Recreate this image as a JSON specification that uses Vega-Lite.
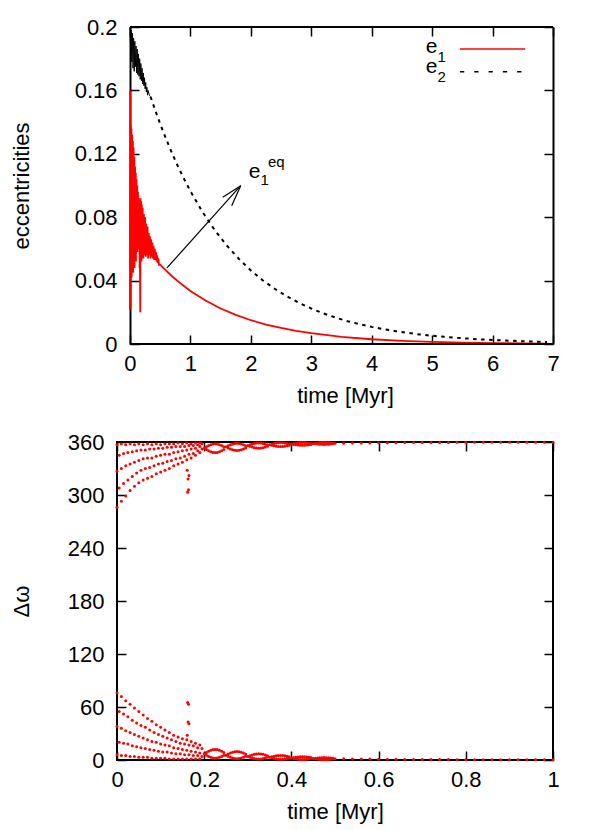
{
"$schema": "https://vega.github.io/schema/vega-lite/v6.json",
"background": "white",
"padding": {"left": 9, "top": 16, "right": 5, "bottom": 5},
"config": {
  "view": {"stroke": "black", "strokeWidth": 2},
  "font": "Liberation Sans",
  "axis": {"labelFont": "Liberation Sans", "labelFontSize": 22, "labelColor": "black", "titleFont": "Liberation Sans", "titleFontSize": 22, "titleFontWeight": "normal", "titleColor": "black", "tickColor": "black", "tickWidth": 1.5, "tickSize": -9, "domain": false, "grid": false, "labelFlush": false, "labelOverlap": false},
  "axisX": {"labelPadding": 18, "titlePadding": 11},
  "axisY": {"labelPadding": 22},
  "text": {"font": "Liberation Sans", "color": "black"}
},
"columns": 1,
"align": "none",
"spacing": 24,
"concat": [
{
  "width": 436, "height": 317,
  "view": {"stroke": null},
  "layer": [
    {
      "data": {"values": [
        {"t":0,"e":0.022},{"t":0.003,"e":0.16},{"t":0.006,"e":0.04},{"t":0.009,"e":0.023},{"t":0.012,"e":0.138},{"t":0.015,"e":0.045},{"t":0.018,"e":0.13},{"t":0.021,"e":0.06},{"t":0.024,"e":0.136},{"t":0.027,"e":0.042},{"t":0.03,"e":0.125},{"t":0.033,"e":0.07},{"t":0.036,"e":0.132},{"t":0.039,"e":0.05},{"t":0.042,"e":0.12},{"t":0.045,"e":0.062},{"t":0.048,"e":0.128},{"t":0.051,"e":0.045},{"t":0.054,"e":0.118},{"t":0.057,"e":0.075},{"t":0.06,"e":0.124},{"t":0.063,"e":0.055},{"t":0.066,"e":0.112},{"t":0.069,"e":0.068},{"t":0.072,"e":0.118},{"t":0.075,"e":0.048},{"t":0.078,"e":0.11},{"t":0.081,"e":0.072},{"t":0.084,"e":0.112},{"t":0.087,"e":0.058},{"t":0.09,"e":0.104},{"t":0.093,"e":0.07},{"t":0.096,"e":0.108},{"t":0.099,"e":0.052},{"t":0.102,"e":0.1},{"t":0.105,"e":0.068},{"t":0.108,"e":0.104},{"t":0.111,"e":0.06},{"t":0.114,"e":0.096},{"t":0.117,"e":0.072},{"t":0.12,"e":0.1},{"t":0.123,"e":0.058},{"t":0.126,"e":0.094},{"t":0.129,"e":0.066},{"t":0.132,"e":0.096},{"t":0.135,"e":0.062},{"t":0.138,"e":0.09},{"t":0.141,"e":0.07},{"t":0.144,"e":0.092},{"t":0.147,"e":0.06},{"t":0.15,"e":0.088},{"t":0.153,"e":0.066},{"t":0.156,"e":0.086},{"t":0.159,"e":0.048},{"t":0.162,"e":0.084},{"t":0.165,"e":0.05},{"t":0.17,"e":0.02},{"t":0.175,"e":0.092},{"t":0.18,"e":0.055},{"t":0.185,"e":0.09},{"t":0.19,"e":0.052},{"t":0.195,"e":0.088},{"t":0.2,"e":0.056},{"t":0.21,"e":0.086},{"t":0.22,"e":0.054},{"t":0.23,"e":0.082},{"t":0.24,"e":0.056},{"t":0.25,"e":0.08},{"t":0.26,"e":0.055},{"t":0.27,"e":0.076},{"t":0.28,"e":0.056},{"t":0.29,"e":0.074},{"t":0.3,"e":0.054},{"t":0.31,"e":0.07},{"t":0.32,"e":0.056},{"t":0.33,"e":0.068},{"t":0.34,"e":0.054},{"t":0.35,"e":0.066},{"t":0.36,"e":0.055},{"t":0.37,"e":0.064},{"t":0.38,"e":0.054},{"t":0.39,"e":0.062},{"t":0.4,"e":0.053},{"t":0.41,"e":0.06},{"t":0.42,"e":0.053},{"t":0.43,"e":0.058},{"t":0.44,"e":0.052},{"t":0.45,"e":0.056},{"t":0.46,"e":0.051},{"t":0.47,"e":0.054},{"t":0.48,"e":0.05},{"t":0.5,"e":0.05},{"t":0.55,"e":0.048},
        {"t":0.7,"e":0.0426},{"t":0.85,"e":0.0378},{"t":1.0,"e":0.0335},{"t":1.25,"e":0.0274},{"t":1.5,"e":0.0224},{"t":1.75,"e":0.0184},{"t":2.0,"e":0.015},{"t":2.25,"e":0.0123},{"t":2.5,"e":0.0101},{"t":2.75,"e":0.0083},{"t":3.0,"e":0.0068},{"t":3.5,"e":0.0045},{"t":4.0,"e":0.003},{"t":4.5,"e":0.002},{"t":5.0,"e":0.0014},{"t":5.5,"e":0.0009},{"t":6.0,"e":0.0006},{"t":6.5,"e":0.0004},{"t":6.9,"e":0.0003}
      ]},
      "mark": {"type": "line", "color": "#ff0000", "strokeWidth": 1.8},
      "encoding": {
        "x": {"field": "t", "type": "quantitative", "scale": {"domain": [-0.215, 7], "nice": false, "zero": false}, "axis": {"orient": "bottom", "values": [0,1,2,3,4,5,6,7], "format": "~g", "title": "time [Myr]", "titleX": 228}},
        "y": {"field": "e", "type": "quantitative", "scale": {"domain": [0, 0.2], "nice": false, "zero": false}, "axis": {"orient": "left", "offset": -13, "domain": true, "domainColor": "black", "domainWidth": 2, "values": [0,0.04,0.08,0.12,0.16,0.2], "format": "~g", "title": "eccentricities", "titleX": -102, "titleBaseline": "alphabetic", "titleAngle": 270}}
      }
    },
    {
      "data": {"values": [
        {"t":0,"e":0.2},{"t":0.01,"e":0.185},{"t":0.02,"e":0.198},{"t":0.03,"e":0.178},{"t":0.04,"e":0.196},{"t":0.05,"e":0.174},{"t":0.06,"e":0.193},{"t":0.07,"e":0.172},{"t":0.08,"e":0.191},{"t":0.09,"e":0.175},{"t":0.1,"e":0.188},{"t":0.11,"e":0.171},{"t":0.12,"e":0.186},{"t":0.13,"e":0.17},{"t":0.14,"e":0.183},{"t":0.15,"e":0.169},{"t":0.16,"e":0.18},{"t":0.17,"e":0.167},{"t":0.18,"e":0.177},{"t":0.19,"e":0.166},{"t":0.2,"e":0.174},{"t":0.21,"e":0.164},{"t":0.22,"e":0.171},{"t":0.23,"e":0.163},{"t":0.24,"e":0.168},{"t":0.25,"e":0.161},{"t":0.26,"e":0.165},{"t":0.27,"e":0.159},{"t":0.28,"e":0.162},{"t":0.29,"e":0.157},{"t":0.3,"e":0.16},{"t":0.32,"e":0.157},{"t":0.34,"e":0.156}
      ]},
      "mark": {"type": "line", "color": "black", "strokeWidth": 1},
      "encoding": {
        "x": {"field": "t", "type": "quantitative", "axis": null},
        "y": {"field": "e", "type": "quantitative", "axis": null}
      }
    },
    {
      "data": {"values": [
        {"t":0.34,"e":0.156},{"t":0.4,"e":0.1494},{"t":0.5,"e":0.1388},{"t":0.6,"e":0.1291},{"t":0.7,"e":0.12},{"t":0.8,"e":0.1115},{"t":0.9,"e":0.1037},{"t":1.0,"e":0.0964},{"t":1.2,"e":0.0833},{"t":1.4,"e":0.072},{"t":1.6,"e":0.0622},{"t":1.8,"e":0.0538},{"t":2.0,"e":0.0464},{"t":2.2,"e":0.0401},{"t":2.4,"e":0.0347},{"t":2.6,"e":0.03},{"t":2.8,"e":0.0259},{"t":3.0,"e":0.0224},{"t":3.2,"e":0.0193},{"t":3.4,"e":0.0167},{"t":3.6,"e":0.0144},{"t":3.8,"e":0.0125},{"t":4.0,"e":0.0108},{"t":4.2,"e":0.0093},{"t":4.4,"e":0.0081},{"t":4.6,"e":0.007},{"t":4.8,"e":0.006},{"t":5.0,"e":0.0052},{"t":5.2,"e":0.0045},{"t":5.4,"e":0.0039},{"t":5.6,"e":0.0034},{"t":5.8,"e":0.0029},{"t":6.0,"e":0.0025},{"t":6.2,"e":0.0022},{"t":6.4,"e":0.0019},{"t":6.6,"e":0.0016},{"t":6.8,"e":0.0014},{"t":6.9,"e":0.0013}
      ]},
      "mark": {"type": "line", "color": "black", "strokeWidth": 2, "strokeDash": [3.5, 4.5]},
      "encoding": {
        "x": {"field": "t", "type": "quantitative", "axis": {"orient": "top", "labels": false, "title": null, "values": [0,1,2,3,4,5,6,7]}},
        "y": {"field": "e", "type": "quantitative", "axis": {"orient": "right", "labels": false, "title": null, "domain": true, "domainColor": "black", "domainWidth": 2, "values": [0,0.04,0.08,0.12,0.16,0.2]}}
      }
    },
    {
      "data": {"values": [{"x1":0,"x2":7,"y":0},{"x1":0,"x2":7,"y":0.2}]},
      "mark": {"type": "rule", "color": "black", "strokeWidth": 2},
      "encoding": {
        "x": {"field": "x1", "type": "quantitative", "axis": null},
        "x2": {"field": "x2"},
        "y": {"field": "y", "type": "quantitative", "axis": null}
      }
    },
    {
      "data": {"values": [
        {"x1":0.612,"y1":0.048,"x2":1.832,"y2":0.0999},
        {"x1":1.832,"y1":0.0999,"x2":1.534,"y2":0.0926},
        {"x1":1.832,"y1":0.0999,"x2":1.683,"y2":0.0873}
      ]},
      "mark": {"type": "rule", "color": "black", "strokeWidth": 1.2},
      "encoding": {
        "x": {"field": "x1", "type": "quantitative", "axis": null},
        "y": {"field": "y1", "type": "quantitative", "axis": null},
        "x2": {"field": "x2"},
        "y2": {"field": "y2"}
      }
    },
    {
      "data": {"values": [{"x1":5.46,"x2":6.54,"y":0.1861}]},
      "mark": {"type": "rule", "color": "#ff0000", "strokeWidth": 1.6},
      "encoding": {
        "x": {"field": "x1", "type": "quantitative", "axis": null},
        "x2": {"field": "x2"},
        "y": {"field": "y", "type": "quantitative", "axis": null}
      }
    },
    {
      "data": {"values": [{"x1":5.46,"x2":6.54,"y":0.1718}]},
      "mark": {"type": "rule", "color": "black", "strokeWidth": 1.6, "strokeDash": [4.3, 10]},
      "encoding": {
        "x": {"field": "x1", "type": "quantitative", "axis": null},
        "x2": {"field": "x2"},
        "y": {"field": "y", "type": "quantitative", "axis": null}
      }
    },
    {
      "data": {"values": [{"x":5.088,"y":0.1833,"s":"e"},{"x":5.088,"y":0.1707,"s":"e"},{"x":2.16,"y":0.1047,"s":"e"}]},
      "mark": {"type": "text", "align": "right", "baseline": "alphabetic", "fontSize": 21, "font": "Liberation Sans", "color": "black"},
      "encoding": {
        "x": {"field": "x", "type": "quantitative", "axis": null},
        "y": {"field": "y", "type": "quantitative", "axis": null},
        "text": {"field": "s"}
      }
    },
    {
      "data": {"values": [{"x":5.088,"y":0.1779,"s":"1"},{"x":5.088,"y":0.165,"s":"2"},{"x":2.16,"y":0.1003,"s":"1"},{"x":2.284,"y":0.1117,"s":"eq"}]},
      "mark": {"type": "text", "align": "left", "baseline": "alphabetic", "fontSize": 15, "font": "Liberation Sans", "color": "black"},
      "encoding": {
        "x": {"field": "x", "type": "quantitative", "axis": null},
        "y": {"field": "y", "type": "quantitative", "axis": null},
        "text": {"field": "s"}
      }
    }
  ]
},
{
  "width": 436, "height": 318,
  "layer": [
    {
      "data": {"values": [
        {"t":0,"d":76},{"t":0.01,"d":72},{"t":0.02,"d":67},{"t":0.03,"d":63},{"t":0.04,"d":59},{"t":0.05,"d":55},{"t":0.06,"d":51},{"t":0.07,"d":47},{"t":0.08,"d":44},{"t":0.09,"d":40},{"t":0.1,"d":37},{"t":0.11,"d":34},{"t":0.12,"d":31},{"t":0.13,"d":28},{"t":0.14,"d":26},{"t":0.15,"d":24},{"t":0.16,"d":23},{"t":0.17,"d":21},{"t":0.18,"d":19},{"t":0.19,"d":17},
        {"t":0.005,"d":55},{"t":0.015,"d":52},{"t":0.025,"d":49},{"t":0.035,"d":45},{"t":0.045,"d":42},{"t":0.055,"d":39},{"t":0.065,"d":37},{"t":0.075,"d":34},{"t":0.085,"d":31},{"t":0.095,"d":29},{"t":0.105,"d":27},{"t":0.115,"d":25},{"t":0.125,"d":23},{"t":0.135,"d":21},{"t":0.145,"d":19},{"t":0.155,"d":18},{"t":0.165,"d":17},{"t":0.175,"d":16},{"t":0.185,"d":14},{"t":0.195,"d":13},
        {"t":0,"d":38},{"t":0.01,"d":36},{"t":0.02,"d":33},{"t":0.03,"d":31},{"t":0.04,"d":29},{"t":0.05,"d":27},{"t":0.06,"d":25},{"t":0.07,"d":23},{"t":0.08,"d":21},{"t":0.09,"d":20},{"t":0.1,"d":18},{"t":0.11,"d":17},{"t":0.12,"d":16},{"t":0.13,"d":14},{"t":0.14,"d":13},{"t":0.15,"d":12},{"t":0.16,"d":11},{"t":0.17,"d":10},{"t":0.18,"d":9},{"t":0.19,"d":8},
        {"t":0.005,"d":20},{"t":0.015,"d":19},{"t":0.025,"d":18},{"t":0.035,"d":16},{"t":0.045,"d":15},{"t":0.055,"d":14},{"t":0.065,"d":13},{"t":0.075,"d":12},{"t":0.085,"d":11},{"t":0.095,"d":10},{"t":0.105,"d":9},{"t":0.115,"d":9},{"t":0.125,"d":8},{"t":0.135,"d":7},{"t":0.145,"d":7},{"t":0.155,"d":6},{"t":0.165,"d":6},{"t":0.175,"d":5},{"t":0.185,"d":5},{"t":0.195,"d":4},
        {"t":0,"d":6},{"t":0.01,"d":5},{"t":0.02,"d":5},{"t":0.03,"d":4},{"t":0.04,"d":4},{"t":0.05,"d":3},{"t":0.06,"d":3},{"t":0.07,"d":3},{"t":0.08,"d":2},{"t":0.09,"d":2},{"t":0.1,"d":2},{"t":0.11,"d":2},{"t":0.12,"d":1},{"t":0.13,"d":1},{"t":0.14,"d":1},{"t":0.15,"d":1},{"t":0.16,"d":1},{"t":0.17,"d":1},{"t":0.18,"d":1},{"t":0.19,"d":1},
        {"t":0.162,"d":65},{"t":0.164,"d":63},{"t":0.163,"d":43},{"t":0.165,"d":41},{"t":0.161,"d":28},
        {"t":0.2,"d":7},{"t":0.205,"d":8.6},{"t":0.21,"d":10},{"t":0.215,"d":11},{"t":0.22,"d":11.8},{"t":0.225,"d":12},{"t":0.23,"d":11.8},{"t":0.235,"d":11},{"t":0.24,"d":10},{"t":0.245,"d":8.6},
        {"t":0.205,"d":5.4},{"t":0.21,"d":4},{"t":0.215,"d":3},{"t":0.22,"d":2.2},{"t":0.225,"d":2},{"t":0.23,"d":2.2},{"t":0.235,"d":3},{"t":0.24,"d":4},{"t":0.245,"d":5.4},
        {"t":0.25,"d":5.5},{"t":0.255,"d":6.7},{"t":0.26,"d":7.9},{"t":0.265,"d":8.7},{"t":0.27,"d":9.3},{"t":0.275,"d":9.5},{"t":0.28,"d":9.3},{"t":0.285,"d":8.7},{"t":0.29,"d":7.9},{"t":0.295,"d":6.7},
        {"t":0.255,"d":4.3},{"t":0.26,"d":3.1},{"t":0.265,"d":2.3},{"t":0.27,"d":1.7},{"t":0.275,"d":1.5},{"t":0.28,"d":1.7},{"t":0.285,"d":2.3},{"t":0.29,"d":3.1},{"t":0.295,"d":4.3},
        {"t":0.3,"d":4},{"t":0.305,"d":4.9},{"t":0.31,"d":5.8},{"t":0.315,"d":6.4},{"t":0.32,"d":6.9},{"t":0.325,"d":7},{"t":0.33,"d":6.9},{"t":0.335,"d":6.4},{"t":0.34,"d":5.8},{"t":0.345,"d":4.9},
        {"t":0.305,"d":3.1},{"t":0.31,"d":2.2},{"t":0.315,"d":1.6},{"t":0.32,"d":1.1},{"t":0.325,"d":1},{"t":0.33,"d":1.1},{"t":0.335,"d":1.6},{"t":0.34,"d":2.2},{"t":0.345,"d":3.1},
        {"t":0.35,"d":3},{"t":0.355,"d":3.7},{"t":0.36,"d":4.3},{"t":0.365,"d":4.8},{"t":0.37,"d":5.1},{"t":0.375,"d":5.2},{"t":0.38,"d":5.1},{"t":0.385,"d":4.8},{"t":0.39,"d":4.3},{"t":0.395,"d":3.7},
        {"t":0.355,"d":2.3},{"t":0.36,"d":1.7},{"t":0.365,"d":1.2},{"t":0.37,"d":0.9},{"t":0.375,"d":0.8},{"t":0.38,"d":0.9},{"t":0.385,"d":1.2},{"t":0.39,"d":1.7},{"t":0.395,"d":2.3},
        {"t":0.4,"d":2.2},{"t":0.405,"d":2.7},{"t":0.41,"d":3.1},{"t":0.415,"d":3.5},{"t":0.42,"d":3.7},{"t":0.425,"d":3.8},{"t":0.43,"d":3.7},{"t":0.435,"d":3.5},{"t":0.44,"d":3.1},{"t":0.445,"d":2.7},
        {"t":0.405,"d":1.7},{"t":0.41,"d":1.3},{"t":0.415,"d":0.9},{"t":0.42,"d":0.7},{"t":0.425,"d":0.6},{"t":0.43,"d":0.7},{"t":0.435,"d":0.9},{"t":0.44,"d":1.3},{"t":0.445,"d":1.7},
        {"t":0.45,"d":1.6},{"t":0.455,"d":1.9},{"t":0.46,"d":2.2},{"t":0.465,"d":2.5},{"t":0.47,"d":2.6},{"t":0.475,"d":2.7},{"t":0.48,"d":2.6},{"t":0.485,"d":2.5},{"t":0.49,"d":2.2},{"t":0.495,"d":1.9},
        {"t":0.455,"d":1.3},{"t":0.46,"d":1},{"t":0.465,"d":0.7},{"t":0.47,"d":0.6},{"t":0.475,"d":0.5},{"t":0.48,"d":0.6},{"t":0.485,"d":0.7},{"t":0.49,"d":1},{"t":0.495,"d":1.3},
        {"t":0.5,"d":1.4},{"t":0.52,"d":1.3},{"t":0.54,"d":1.2},{"t":0.56,"d":1.1},{"t":0.58,"d":1.0},{"t":0.6,"d":0.9},{"t":0.62,"d":0.85},{"t":0.64,"d":0.8},{"t":0.66,"d":0.7},{"t":0.68,"d":0.65},{"t":0.7,"d":0.6},{"t":0.72,"d":0.55},{"t":0.74,"d":0.5},{"t":0.76,"d":0.45},{"t":0.78,"d":0.4},{"t":0.8,"d":0.4},{"t":0.82,"d":0.35},{"t":0.84,"d":0.3},{"t":0.86,"d":0.3},{"t":0.88,"d":0.25},{"t":0.9,"d":0.25},{"t":0.92,"d":0.2},{"t":0.94,"d":0.2},{"t":0.96,"d":0.2},{"t":0.98,"d":0.15},{"t":1.0,"d":0.15}
      ]},
      "mark": {"type": "point", "filled": true, "color": "#ff0000", "size": 9, "opacity": 1},
      "encoding": {
        "x": {"field": "t", "type": "quantitative", "scale": {"domain": [0, 1], "nice": false, "zero": false}, "axis": {"orient": "bottom", "values": [0,0.2,0.4,0.6,0.8,1], "format": "~g", "title": "time [Myr]"}},
        "y": {"field": "d", "type": "quantitative", "scale": {"domain": [0, 360], "nice": false, "zero": false}, "axis": {"orient": "left", "values": [0,60,120,180,240,300,360], "format": "d", "title": "Δω", "titleX": -89, "titleBaseline": "alphabetic", "titleAngle": 270}}
      }
    },
    {
      "data": {"values": [
        {"t":0,"d":286},{"t":0.01,"d":293},{"t":0.02,"d":299},{"t":0.03,"d":305},{"t":0.04,"d":310},{"t":0.05,"d":314},{"t":0.06,"d":317},{"t":0.07,"d":319},{"t":0.08,"d":321},{"t":0.09,"d":324},{"t":0.1,"d":326},{"t":0.11,"d":328},{"t":0.12,"d":330},{"t":0.13,"d":333},{"t":0.14,"d":335},{"t":0.15,"d":337},{"t":0.16,"d":340},{"t":0.17,"d":342},{"t":0.18,"d":345},{"t":0.19,"d":348},
        {"t":0.005,"d":308},{"t":0.015,"d":313},{"t":0.025,"d":317},{"t":0.035,"d":321},{"t":0.045,"d":325},{"t":0.055,"d":328},{"t":0.065,"d":330},{"t":0.075,"d":331},{"t":0.085,"d":333},{"t":0.095,"d":335},{"t":0.105,"d":336},{"t":0.115,"d":338},{"t":0.125,"d":339},{"t":0.135,"d":341},{"t":0.145,"d":342},{"t":0.155,"d":344},{"t":0.165,"d":346},{"t":0.175,"d":347},{"t":0.185,"d":350},{"t":0.195,"d":352},
        {"t":0,"d":327},{"t":0.01,"d":330},{"t":0.02,"d":333},{"t":0.03,"d":335},{"t":0.04,"d":337},{"t":0.05,"d":339},{"t":0.06,"d":341},{"t":0.07,"d":342},{"t":0.08,"d":342},{"t":0.09,"d":344},{"t":0.1,"d":345},{"t":0.11,"d":346},{"t":0.12,"d":346},{"t":0.13,"d":348},{"t":0.14,"d":349},{"t":0.15,"d":350},{"t":0.16,"d":351},{"t":0.17,"d":352},{"t":0.18,"d":353},{"t":0.19,"d":355},
        {"t":0.005,"d":345},{"t":0.015,"d":347},{"t":0.025,"d":348},{"t":0.035,"d":349},{"t":0.045,"d":350},{"t":0.055,"d":351},{"t":0.065,"d":351},{"t":0.075,"d":352},{"t":0.085,"d":352},{"t":0.095,"d":353},{"t":0.105,"d":353},{"t":0.115,"d":354},{"t":0.125,"d":354},{"t":0.135,"d":355},{"t":0.145,"d":355},{"t":0.155,"d":355},{"t":0.165,"d":356},{"t":0.175,"d":356},{"t":0.185,"d":357},{"t":0.195,"d":358},
        {"t":0,"d":357},{"t":0.01,"d":358},{"t":0.02,"d":357},{"t":0.03,"d":358},{"t":0.04,"d":357},{"t":0.05,"d":358},{"t":0.06,"d":357},{"t":0.07,"d":358},{"t":0.08,"d":357},{"t":0.09,"d":358},{"t":0.1,"d":357},{"t":0.11,"d":358},{"t":0.12,"d":358},{"t":0.13,"d":358},{"t":0.14,"d":359},{"t":0.15,"d":358},{"t":0.16,"d":359},{"t":0.17,"d":358},{"t":0.18,"d":359},{"t":0.19,"d":359},
        {"t":0.162,"d":303},{"t":0.164,"d":306},{"t":0.163,"d":318},{"t":0.165,"d":322},{"t":0.161,"d":328},
        {"t":0.2,"d":353},{"t":0.205,"d":351.4},{"t":0.21,"d":350},{"t":0.215,"d":349},{"t":0.22,"d":348.2},{"t":0.225,"d":348},{"t":0.23,"d":348.2},{"t":0.235,"d":349},{"t":0.24,"d":350},{"t":0.245,"d":351.4},
        {"t":0.205,"d":354.6},{"t":0.21,"d":356},{"t":0.215,"d":357},{"t":0.22,"d":357.8},{"t":0.225,"d":358},{"t":0.23,"d":357.8},{"t":0.235,"d":357},{"t":0.24,"d":356},{"t":0.245,"d":354.6},
        {"t":0.25,"d":354.5},{"t":0.255,"d":353.3},{"t":0.26,"d":352.1},{"t":0.265,"d":351.3},{"t":0.27,"d":350.7},{"t":0.275,"d":350.5},{"t":0.28,"d":350.7},{"t":0.285,"d":351.3},{"t":0.29,"d":352.1},{"t":0.295,"d":353.3},
        {"t":0.255,"d":355.7},{"t":0.26,"d":356.9},{"t":0.265,"d":357.7},{"t":0.27,"d":358.3},{"t":0.275,"d":358.5},{"t":0.28,"d":358.3},{"t":0.285,"d":357.7},{"t":0.29,"d":356.9},{"t":0.295,"d":355.7},
        {"t":0.3,"d":356},{"t":0.305,"d":355.1},{"t":0.31,"d":354.2},{"t":0.315,"d":353.6},{"t":0.32,"d":353.1},{"t":0.325,"d":353},{"t":0.33,"d":353.1},{"t":0.335,"d":353.6},{"t":0.34,"d":354.2},{"t":0.345,"d":355.1},
        {"t":0.305,"d":356.9},{"t":0.31,"d":357.8},{"t":0.315,"d":358.4},{"t":0.32,"d":358.9},{"t":0.325,"d":359},{"t":0.33,"d":358.9},{"t":0.335,"d":358.4},{"t":0.34,"d":357.8},{"t":0.345,"d":356.9},
        {"t":0.35,"d":357},{"t":0.355,"d":356.3},{"t":0.36,"d":355.7},{"t":0.365,"d":355.2},{"t":0.37,"d":354.9},{"t":0.375,"d":354.8},{"t":0.38,"d":354.9},{"t":0.385,"d":355.2},{"t":0.39,"d":355.7},{"t":0.395,"d":356.3},
        {"t":0.355,"d":357.7},{"t":0.36,"d":358.3},{"t":0.365,"d":358.8},{"t":0.37,"d":359.1},{"t":0.375,"d":359.2},{"t":0.38,"d":359.1},{"t":0.385,"d":358.8},{"t":0.39,"d":358.3},{"t":0.395,"d":357.7},
        {"t":0.4,"d":357.8},{"t":0.405,"d":357.3},{"t":0.41,"d":356.9},{"t":0.415,"d":356.5},{"t":0.42,"d":356.3},{"t":0.425,"d":356.2},{"t":0.43,"d":356.3},{"t":0.435,"d":356.5},{"t":0.44,"d":356.9},{"t":0.445,"d":357.3},
        {"t":0.405,"d":358.3},{"t":0.41,"d":358.7},{"t":0.415,"d":359.1},{"t":0.42,"d":359.3},{"t":0.425,"d":359.4},{"t":0.43,"d":359.3},{"t":0.435,"d":359.1},{"t":0.44,"d":358.7},{"t":0.445,"d":358.3},
        {"t":0.45,"d":358.4},{"t":0.455,"d":358.1},{"t":0.46,"d":357.8},{"t":0.465,"d":357.5},{"t":0.47,"d":357.4},{"t":0.475,"d":357.3},{"t":0.48,"d":357.4},{"t":0.485,"d":357.5},{"t":0.49,"d":357.8},{"t":0.495,"d":358.1},
        {"t":0.455,"d":358.7},{"t":0.46,"d":359},{"t":0.465,"d":359.3},{"t":0.47,"d":359.4},{"t":0.475,"d":359.5},{"t":0.48,"d":359.4},{"t":0.485,"d":359.3},{"t":0.49,"d":359},{"t":0.495,"d":358.7},
        {"t":0.5,"d":358.6},{"t":0.52,"d":358.7},{"t":0.54,"d":358.8},{"t":0.56,"d":358.9},{"t":0.58,"d":359},{"t":0.6,"d":359.1},{"t":0.62,"d":359.15},{"t":0.64,"d":359.2},{"t":0.66,"d":359.3},{"t":0.68,"d":359.35},{"t":0.7,"d":359.4},{"t":0.72,"d":359.45},{"t":0.74,"d":359.5},{"t":0.76,"d":359.55},{"t":0.78,"d":359.6},{"t":0.8,"d":359.6},{"t":0.82,"d":359.65},{"t":0.84,"d":359.7},{"t":0.86,"d":359.7},{"t":0.88,"d":359.75},{"t":0.9,"d":359.75},{"t":0.92,"d":359.8},{"t":0.94,"d":359.8},{"t":0.96,"d":359.8},{"t":0.98,"d":359.85},{"t":1.0,"d":359.85}
      ]},
      "mark": {"type": "point", "filled": true, "color": "#ff0000", "size": 9, "opacity": 1},
      "encoding": {
        "x": {"field": "t", "type": "quantitative", "axis": {"orient": "top", "labels": false, "title": null, "values": [0,0.2,0.4,0.6,0.8,1]}},
        "y": {"field": "d", "type": "quantitative", "axis": {"orient": "right", "labels": false, "title": null, "values": [0,60,120,180,240,300,360]}}
      }
    }
  ]
}
]
}
